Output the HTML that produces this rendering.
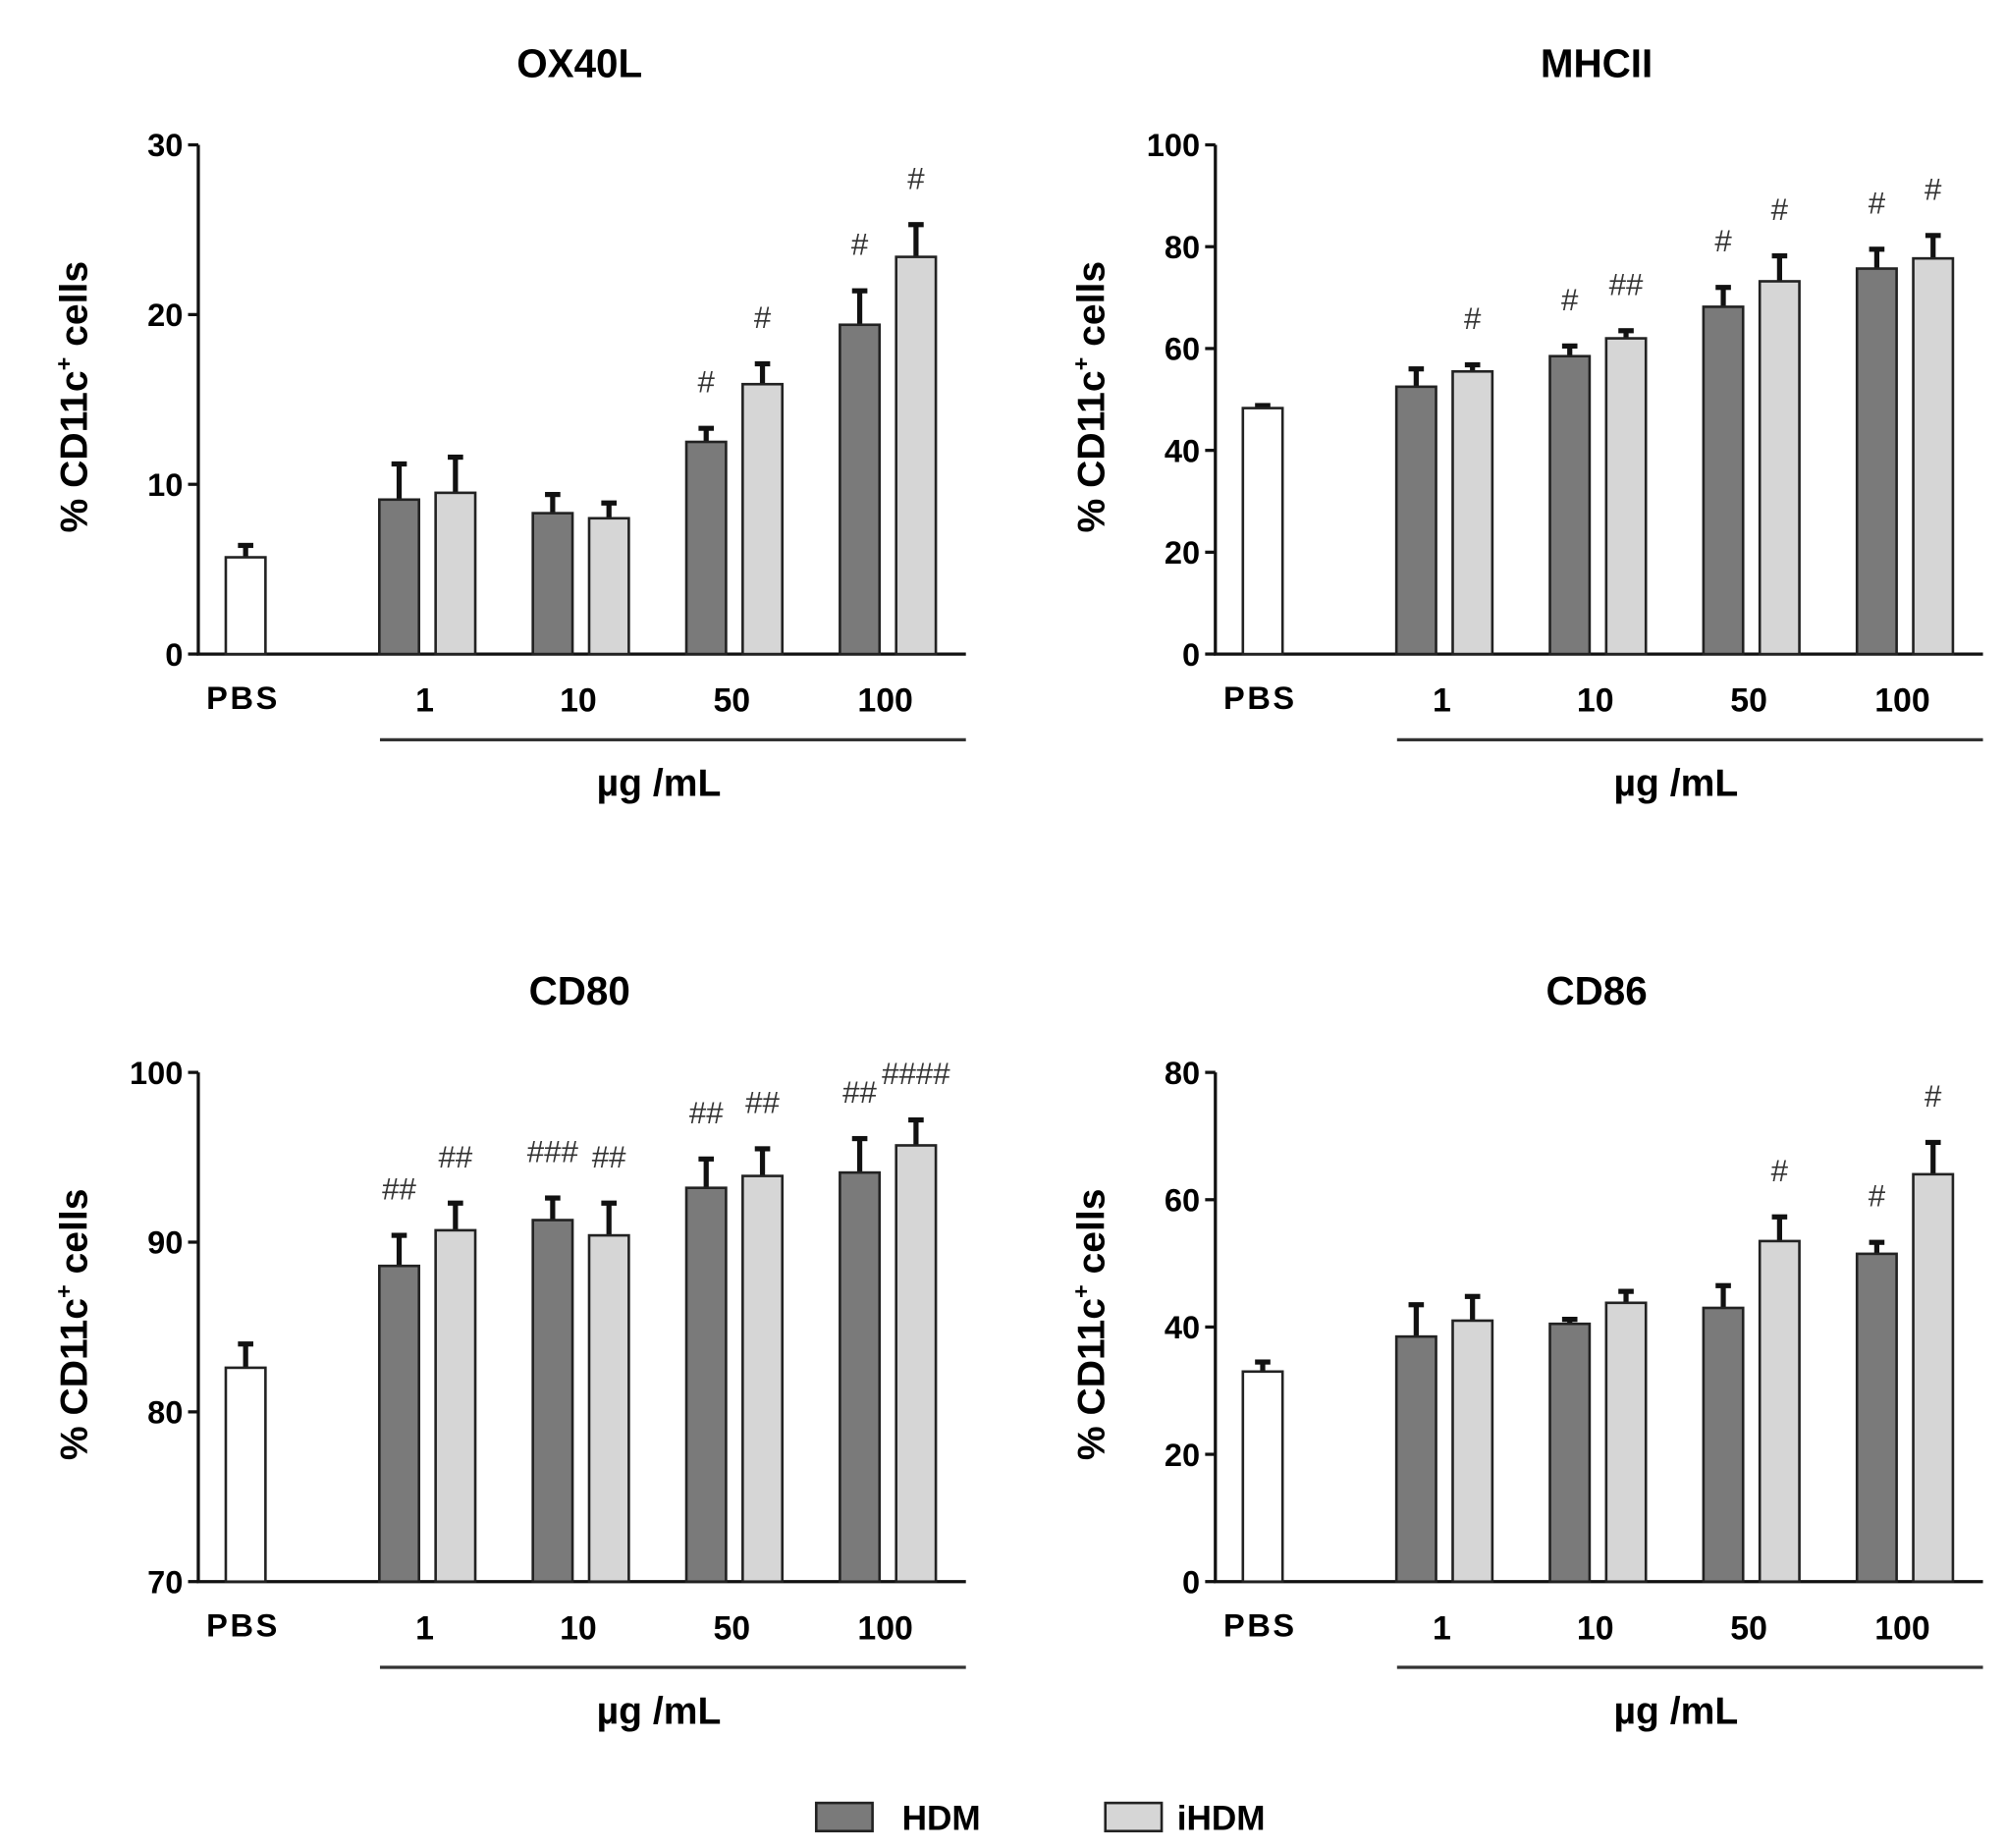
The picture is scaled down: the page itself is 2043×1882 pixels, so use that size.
<!DOCTYPE html>
<html><head><meta charset="utf-8"><style>
html,body{margin:0;padding:0;background:#fff}
svg{display:block;font-family:"Liberation Sans",Arial,sans-serif;font-weight:bold}
</style></head><body>
<svg id="fig" width="2043" height="1882" viewBox="0 0 1568 1444" xmlns="http://www.w3.org/2000/svg"></svg>
<script>
const categories = ["1","10","50","100"];
const ox40lPbs = [5.7, 0.7];
const ox40lHdm = [9.1, 8.3, 12.5, 19.4];
const ox40lHdmErr = [2.1, 1.1, 0.8, 2.0];
const ox40lIhdm = [9.5, 8.0, 15.9, 23.4];
const ox40lIhdmErr = [2.1, 0.9, 1.2, 1.9];
const ox40lHdmSig = ["", "", "#", "#"];
const ox40lIhdmSig = ["", "", "#", "#"];
const ox40lTicks = [0, 10, 20, 30];

const mhcPbs = [48.3, 0.5];
const mhcHdm = [52.5, 58.5, 68.2, 75.7];
const mhcHdmErr = [3.5, 2.0, 3.8, 3.8];
const mhcIhdm = [55.5, 62.0, 73.2, 77.7];
const mhcIhdmErr = [1.3, 1.5, 5.0, 4.5];
const mhcHdmSig = ["", "#", "#", "#"];
const mhcIhdmSig = ["#", "##", "#", "#"];
const mhcTicks = [0, 20, 40, 60, 80, 100];

const cd80Pbs = [82.6, 1.4];
const cd80Hdm = [88.6, 91.3, 93.2, 94.1];
const cd80HdmErr = [1.8, 1.3, 1.7, 2.0];
const cd80Ihdm = [90.7, 90.4, 93.9, 95.7];
const cd80IhdmErr = [1.6, 1.9, 1.6, 1.5];
const cd80HdmSig = ["##", "###", "##", "##"];
const cd80IhdmSig = ["##", "##", "##", "####"];
const cd80Ticks = [70, 80, 90, 100];

const cd86Pbs = [33, 1.5];
const cd86Hdm = [38.5, 40.5, 43, 51.5];
const cd86HdmErr = [5.0, 0.7, 3.5, 1.8];
const cd86Ihdm = [41, 43.8, 53.5, 64];
const cd86IhdmErr = [3.8, 1.8, 3.8, 5.0];
const cd86HdmSig = ["", "", "", "#"];
const cd86IhdmSig = ["", "", "#", "#"];
const cd86Ticks = [0, 20, 40, 60, 80];

const NS = "http://www.w3.org/2000/svg";
const svg = document.getElementById("fig");
function mk(tag, attrs, parent, text){
  const e = document.createElementNS(NS, tag);
  for (const k in attrs) e.setAttribute(k, attrs[k]);
  if (text !== undefined) e.textContent = text;
  (parent || svg).appendChild(e);
  return e;
}

function panel(name, title, ox, oy, ticks, pbs, hdm, hdmE, ihdm, ihdmE, hSig, iSig){
  const g = mk("g", {transform: `translate(${ox},${oy})`});
  
  
  const x0 = 155, yTop = 113, yBot = 511, xEnd = 755;
  const vmin = ticks[0], vmax = ticks[ticks.length-1];
  const y = v => yBot - (v - vmin) / (vmax - vmin) * (yBot - yTop);
  const t = mk("text", {x: 453, y: 60, "text-anchor": "middle", "font-size": 31}, g, title);
  
  
  const yl = mk("text", {x: 0, y: 0, "text-anchor": "middle", "font-size": 30, transform: `translate(68,310) rotate(-90)`}, g);
  
  
  yl.appendChild(document.createTextNode("% CD11c"));
  mk("tspan", {"font-size": 18, dy: -12}, yl, "+");
  mk("tspan", {dy: 12}, yl, " cells");
  const ax = mk("path", {d: `M${x0} ${yTop} V${yBot} H${xEnd}`, stroke: "#111", "stroke-width": 2.5, fill: "none"}, g);
  
  
  ticks.forEach(v => {
    mk("line", {x1: x0 - 8, x2: x0, y1: y(v), y2: y(v), stroke: "#111", "stroke-width": 2.5}, g);
    const tl = mk("text", {x: x0 - 12, y: y(v) + 9, "text-anchor": "end", "font-size": 25}, g, String(v));
    
    
  });
  const bw = 31;
  function bar(cx, v, e, fill, sig, nm){
    const top = y(v), et = y(v + e);
    mk("line", {x1: cx, x2: cx, y1: top, y2: et, stroke: "#111", "stroke-width": 4}, g);
    mk("line", {x1: cx - 6, x2: cx + 6, y1: et, y2: et, stroke: "#111", "stroke-width": 4}, g);
    const r = mk("rect", {x: cx - bw/2, y: top, width: bw, height: yBot - top, fill: fill, stroke: "#222", "stroke-width": 2}, g);
    
    
    if (sig) {
      const s = mk("text", {x: cx, y: et - 28, "text-anchor": "middle", "font-size": 24, "font-weight": "normal", fill: "#333"}, g, sig);
      
      
    }
  }
  bar(192, pbs[0], pbs[1], "#fff", "", "bar-pbs");
  const pl = mk("text", {x: 190, y: 554, "text-anchor": "middle", "font-size": 25, "letter-spacing": 2}, g, "PBS");
  
  
  categories.forEach((c, i) => {
    const gc = 334 + i * 120;
    bar(gc - 22, hdm[i], hdmE[i], "#7a7a7a", hSig[i], "bar-hdm-" + c);
    bar(gc + 22, ihdm[i], ihdmE[i], "#d6d6d6", iSig[i], "bar-ihdm-" + c);
    const xl = mk("text", {x: gc - 2, y: 556, "text-anchor": "middle", "font-size": 26}, g, c);
    
    
  });
  mk("line", {x1: 297, x2: xEnd, y1: 578, y2: 578, stroke: "#333", "stroke-width": 2.5}, g);
  const u = mk("text", {x: 515, y: 622, "text-anchor": "middle", "font-size": 30}, g, "µg /mL");
  
  
}

panel("ox40l", "OX40L", 0, 0, ox40lTicks, ox40lPbs, ox40lHdm, ox40lHdmErr, ox40lIhdm, ox40lIhdmErr, ox40lHdmSig, ox40lIhdmSig);
panel("mhcii", "MHCII", 795, 0, mhcTicks, mhcPbs, mhcHdm, mhcHdmErr, mhcIhdm, mhcIhdmErr, mhcHdmSig, mhcIhdmSig);
panel("cd80", "CD80", 0, 725, cd80Ticks, cd80Pbs, cd80Hdm, cd80HdmErr, cd80Ihdm, cd80IhdmErr, cd80HdmSig, cd80IhdmSig);
panel("cd86", "CD86", 795, 725, cd86Ticks, cd86Pbs, cd86Hdm, cd86HdmErr, cd86Ihdm, cd86IhdmErr, cd86HdmSig, cd86IhdmSig);

const lg = mk("g", {});


const l1 = mk("rect", {x: 638, y: 1409, width: 44, height: 22, fill: "#7a7a7a", stroke: "#222", "stroke-width": 2}, lg);


const t1 = mk("text", {x: 705, y: 1430, "font-size": 27}, lg, "HDM");


const l2 = mk("rect", {x: 864, y: 1409, width: 44, height: 22, fill: "#d6d6d6", stroke: "#222", "stroke-width": 2}, lg);


const t2 = mk("text", {x: 920, y: 1430, "font-size": 27}, lg, "iHDM");


</script>
</body></html>
